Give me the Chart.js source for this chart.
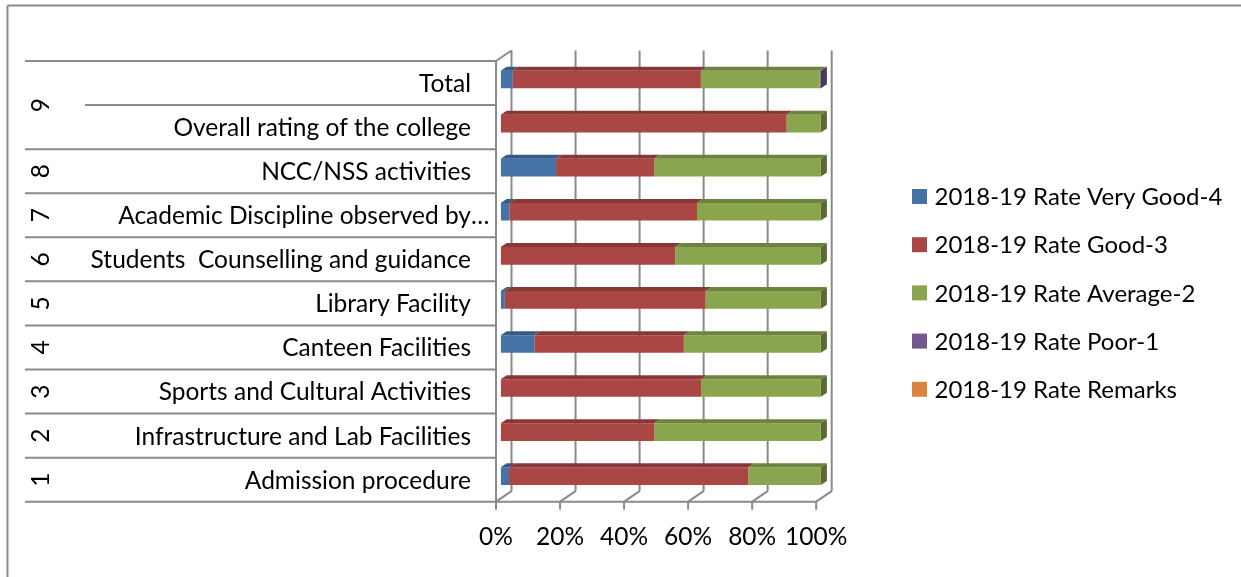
<!DOCTYPE html>
<html>
<head>
<meta charset="utf-8">
<script src="https://cdn.jsdelivr.net/npm/chart.js@4.4.1/dist/chart.umd.min.js"></script>
<style>
  html, body { margin: 0; padding: 0; background: #fff; }
  #wrap { width: 1241px; height: 577px; }
</style>
</head>
<body>
<div id="wrap"><canvas id="chart" width="1241" height="577"></canvas></div>
<script>
// rows top to bottom, as in the sheet (group number + item)
const categories = [
  'Total',
  'Overall rating of the college',
  'NCC/NSS activities',
  'Academic Discipline observed by…',
  'Students  Counselling and guidance',
  'Library Facility',
  'Canteen Facilities',
  'Sports and Cultural Activities',
  'Infrastructure and Lab Facilities',
  'Admission procedure'
];
const groups = ['9', '9', '8', '7', '6', '5', '4', '3', '2', '1'];

// share of answers, percent
const veryGood = [3.7, 0, 17.3, 2.7, 0, 1.3, 10.5, 0, 0, 2.6];
const good     = [58.8, 89.3, 30.6, 58.6, 54.5, 62.7, 46.7, 62.6, 47.9, 74.7];
const average  = [37.1, 10.7, 52.1, 38.7, 45.5, 36.0, 42.8, 37.4, 52.1, 22.7];
const poor     = [0.4, 0, 0, 0, 0, 0, 0, 0, 0, 0];
const remarks  = [0, 0, 0, 0, 0, 0, 0, 0, 0, 0];

const xTicks = [0, 20, 40, 60, 80, 100];

const FONT = 'Lato, "Open Sans", sans-serif';
const TXT = 24.5;
const LEG = 24;
const LINE = '#8a8a8a';

function shade(hex, f) {
  const n = parseInt(hex.slice(1), 16);
  const r = Math.round(((n >> 16) & 255) * f);
  const g = Math.round(((n >> 8) & 255) * f);
  const b = Math.round((n & 255) * f);
  return 'rgb(' + r + ',' + g + ',' + b + ')';
}

function line(ctx, x0, y0, x1, y1) {
  ctx.beginPath();
  ctx.moveTo(x0, y0);
  ctx.lineTo(x1, y1);
  ctx.stroke();
}

function poly(ctx, pts) {
  ctx.beginPath();
  ctx.moveTo(pts[0][0], pts[0][1]);
  pts.slice(1).forEach(p => ctx.lineTo(p[0], p[1]));
  ctx.closePath();
  ctx.fill();
}

// walls, floor, category table and outer border
const frame3d = {
  id: 'frame3d',
  beforeDatasetsDraw(chart) {
    const {ctx, scales: {x, y}} = chart;
    const fx = v => x.getPixelForValue(v) - 4.7;   // front plane
    const step = y.getPixelForValue(1) - y.getPixelForValue(0);
    const edge = i => y.getPixelForValue(i) - step / 2 + 3.5;
    const n = categories.length;
    const top = edge(0), bottom = edge(n);

    ctx.save();
    ctx.strokeStyle = LINE;
    ctx.lineWidth = 2;

    // outer chart border
    line(ctx, 7.5, 5.5, chart.width, 5.5);
    line(ctx, 7.5, 5.5, 7.5, chart.height);

    xTicks.forEach(v => {
      const bx = fx(v) + 15.5;
      line(ctx, bx, top - 10.5, bx, bottom - 10.5);
      line(ctx, fx(v), bottom, bx, bottom - 10.5);
      line(ctx, fx(v), bottom, fx(v), bottom + 8);
    });
    line(ctx, fx(0), top, fx(0) + 15.5, top - 10.5);
    line(ctx, fx(0), top, fx(0), bottom);

    for (let i = 0; i <= n; i++) {
      const inner = i > 0 && i < n && groups[i - 1] === groups[i];
      line(ctx, inner ? 85 : 25, edge(i), i === n ? fx(100) : fx(0), edge(i));
    }

    ctx.fillStyle = '#000';
    ctx.font = TXT + 'px ' + FONT;
    ctx.textBaseline = 'middle';
    categories.forEach((c, i) => {
      const cy = (edge(i) + edge(i + 1)) / 2 + 1;
      if (c.endsWith('…')) {
        ctx.textAlign = 'right';
        ctx.fillText(c.slice(0, -1), 471, cy);
        ctx.textAlign = 'left';
        ctx.fillText('…', 471, cy);
      } else {
        ctx.textAlign = 'right';
        ctx.fillText(c, 471, cy);
      }
    });

    // group numbers, rotated
    ctx.textAlign = 'center';
    let start = 0;
    for (let i = 1; i <= n; i++) {
      if (i === n || groups[i] !== groups[start]) {
        const cy = (edge(start) + edge(i)) / 2;
        ctx.save();
        ctx.translate(41, cy);
        ctx.rotate(-Math.PI / 2);
        ctx.fillText(groups[start], 0, 0);
        ctx.restore();
        start = i;
      }
    }
    ctx.restore();
  },

  afterDatasetsDraw(chart) {
    const {ctx} = chart;
    const sets = chart.data.datasets;
    ctx.save();
    sets.forEach((ds, di) => {
      const meta = chart.getDatasetMeta(di);
      meta.data.forEach((bar, i) => {
        if (!ds.data[i]) return;
        const p = bar.getProps(['x', 'y', 'base', 'height'], true);
        const t = p.y - p.height / 2, b = p.y + p.height / 2;
        ctx.fillStyle = shade(ds.backgroundColor, 0.8);
        poly(ctx, [[p.base, t], [p.x, t], [p.x + 6, t - 4], [p.base + 6, t - 4]]);
        let last = true;
        for (let k = di + 1; k < sets.length; k++) if (sets[k].data[i]) last = false;
        if (last) {
          ctx.fillStyle = shade(ds.backgroundColor, 0.65);
          poly(ctx, [[p.x, t], [p.x + 6, t - 4], [p.x + 6, b - 4], [p.x, b]]);
        }
      });
    });
    ctx.restore();
  },

  afterDraw(chart) {
    const {ctx} = chart;
    ctx.save();
    ctx.font = LEG + 'px ' + FONT;
    ctx.textBaseline = 'middle';
    ctx.textAlign = 'left';
    chart.data.datasets.forEach((ds, i) => {
      const cy = 196.5 + i * 48.2;
      ctx.fillStyle = ds.backgroundColor;
      ctx.fillRect(912, cy - 7.5, 15, 15);
      ctx.fillStyle = '#000';
      ctx.fillText(ds.label, 934.5, cy + 1);
    });
    ctx.restore();
  }
};

new Chart(document.getElementById('chart'), {
  type: 'bar',
  data: {
    labels: categories,
    datasets: [
      { label: '2018-19 Rate Very Good-4', data: veryGood, backgroundColor: '#4572A7' },
      { label: '2018-19 Rate Good-3',      data: good,     backgroundColor: '#AA4643' },
      { label: '2018-19 Rate Average-2',   data: average,  backgroundColor: '#89A54E' },
      { label: '2018-19 Rate Poor-1',      data: poor,     backgroundColor: '#71588F' },
      { label: '2018-19 Rate Remarks',     data: remarks,  backgroundColor: '#DB843D' }
    ]
  },
  options: {
    indexAxis: 'y',
    responsive: false,
    animation: false,
    layout: { padding: { left: 500.7, right: 420.1, top: 57.5, bottom: 0.4 } },
    datasets: { bar: { categoryPercentage: 1, barPercentage: 0.4, borderWidth: 0 } },
    plugins: { legend: { display: false }, tooltip: { enabled: false } },
    scales: {
      x: {
        stacked: true,
        min: 0,
        max: 100,
        afterBuildTicks: s => { s.ticks = xTicks.map(v => ({ value: v })); },
        grid: { display: false, drawTicks: false },
        border: { display: false },
        ticks: {
          callback: v => v + '%',
          font: { family: FONT, size: TXT },
          color: '#000',
          padding: 24.5,
          labelOffset: -4.7,
          maxRotation: 0,
          autoSkip: false
        }
      },
      y: { stacked: true, display: false }
    }
  },
  plugins: [frame3d]
});
</script>
</body>
</html>
